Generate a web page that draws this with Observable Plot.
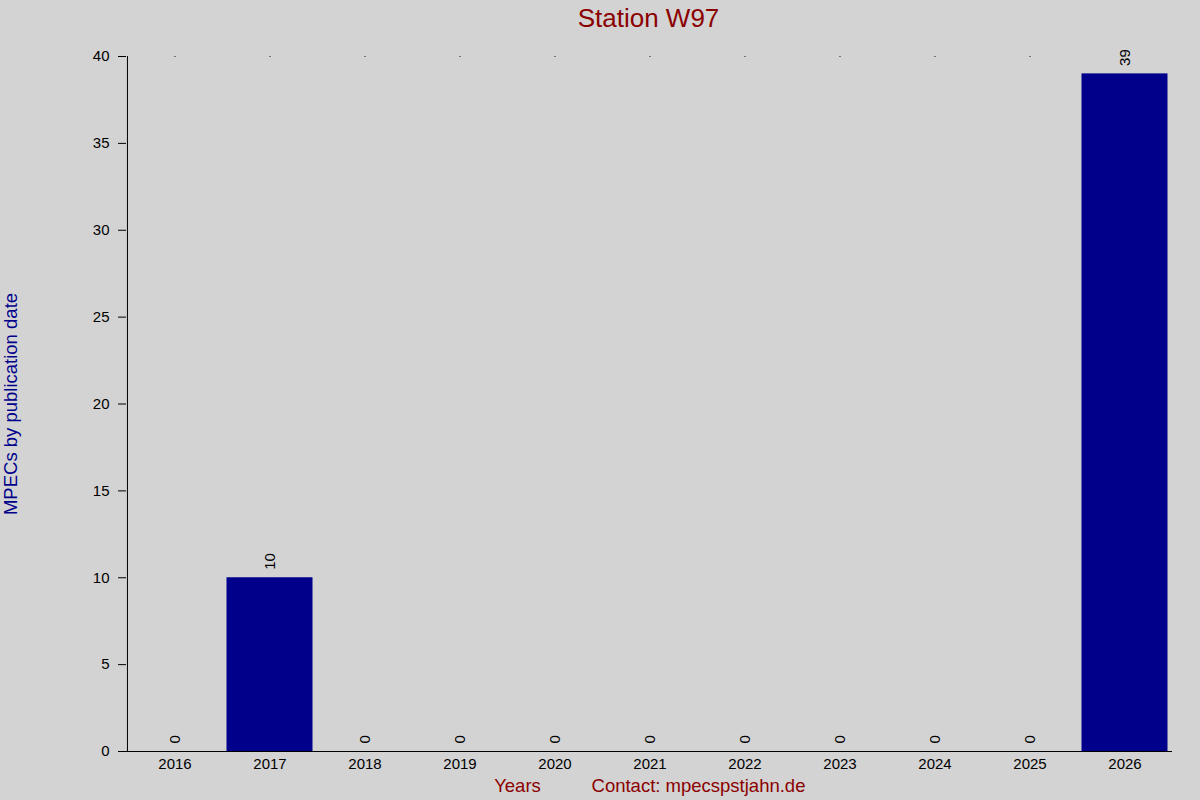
<!DOCTYPE html>
<html>
<head>
<meta charset="utf-8">
<script src="https://cdn.jsdelivr.net/npm/d3@7"></script>
<script src="https://cdn.jsdelivr.net/npm/@observablehq/plot@0.6"></script>
<style>
  html, body { margin: 0; padding: 0; background: #d3d3d3; }
  svg { display: block; }
</style>
</head>
<body>
<div id="chart"></div>
<script>
const years = ["2016","2017","2018","2019","2020","2021","2022","2023","2024","2025","2026"];
const counts = [0, 10, 0, 0, 0, 0, 0, 0, 0, 0, 39];
const yTicks = [0, 5, 10, 15, 20, 25, 30, 35, 40];

const data = years.map((y, i) => ({year: y, count: counts[i]}));

const W = 1200, H = 800;
const mL = 126, mR = 28, mT = 56, mB = 49;
const bw = (W - mL - mR) / years.length;
const cx = mL + (W - mL - mR) / 2;
const font = "'Liberation Sans', Arial, sans-serif";

const chart = Plot.plot({
  width: W,
  height: H,
  marginLeft: mL,
  marginRight: mR,
  marginTop: mT,
  marginBottom: mB,
  style: {background: "#d3d3d3", fontFamily: font, fontSize: "15px", color: "black"},
  x: {domain: years, padding: 0, label: null},
  y: {domain: [0, 40], label: null},
  marks: [
    Plot.barY(data, {x: "year", y: "count", fill: "#00008b", insetLeft: 4.5, insetRight: 4.5}),
    Plot.axisX({tickSize: 0, tickPadding: 7, fontSize: 15, label: null}),
    Plot.axisY({ticks: yTicks, tickSize: 8, tickPadding: 9, fontSize: 15, label: null}),
    Plot.ruleY([0], {stroke: "black"}),
    Plot.ruleX([years[0]], {y1: 0, y2: 40, dx: -bw / 2, stroke: "black"}),
    Plot.dot(years, {x: d => d, y: () => 40, r: 0.6, fill: "black", stroke: null}),
    Plot.text(data, {x: "year", y: "count", text: d => String(d.count), rotate: -90, textAnchor: "start", lineAnchor: "middle", dy: -8, fontSize: 15, fill: "black"}),
    Plot.text(["Station W97"], {frameAnchor: "top", textAnchor: "middle", dy: -48, dx: 648 - cx, fontSize: 26, fill: "#8b0000"}),
    Plot.text(["MPECs by publication date"], {frameAnchor: "left", textAnchor: "middle", dx: -115, rotate: -90, fontSize: 18.5, fill: "#00008b"}),
    Plot.text(["Years"], {frameAnchor: "bottom", textAnchor: "middle", dx: 517 - cx, dy: 40, fontSize: 18.5, fill: "#8b0000"}),
    Plot.text(["Contact: mpecspstjahn.de"], {frameAnchor: "bottom", textAnchor: "middle", dx: 698 - cx, dy: 40, fontSize: 18.5, fill: "#8b0000"})
  ]
});
document.getElementById("chart").appendChild(chart);
</script>
</body>
</html>
